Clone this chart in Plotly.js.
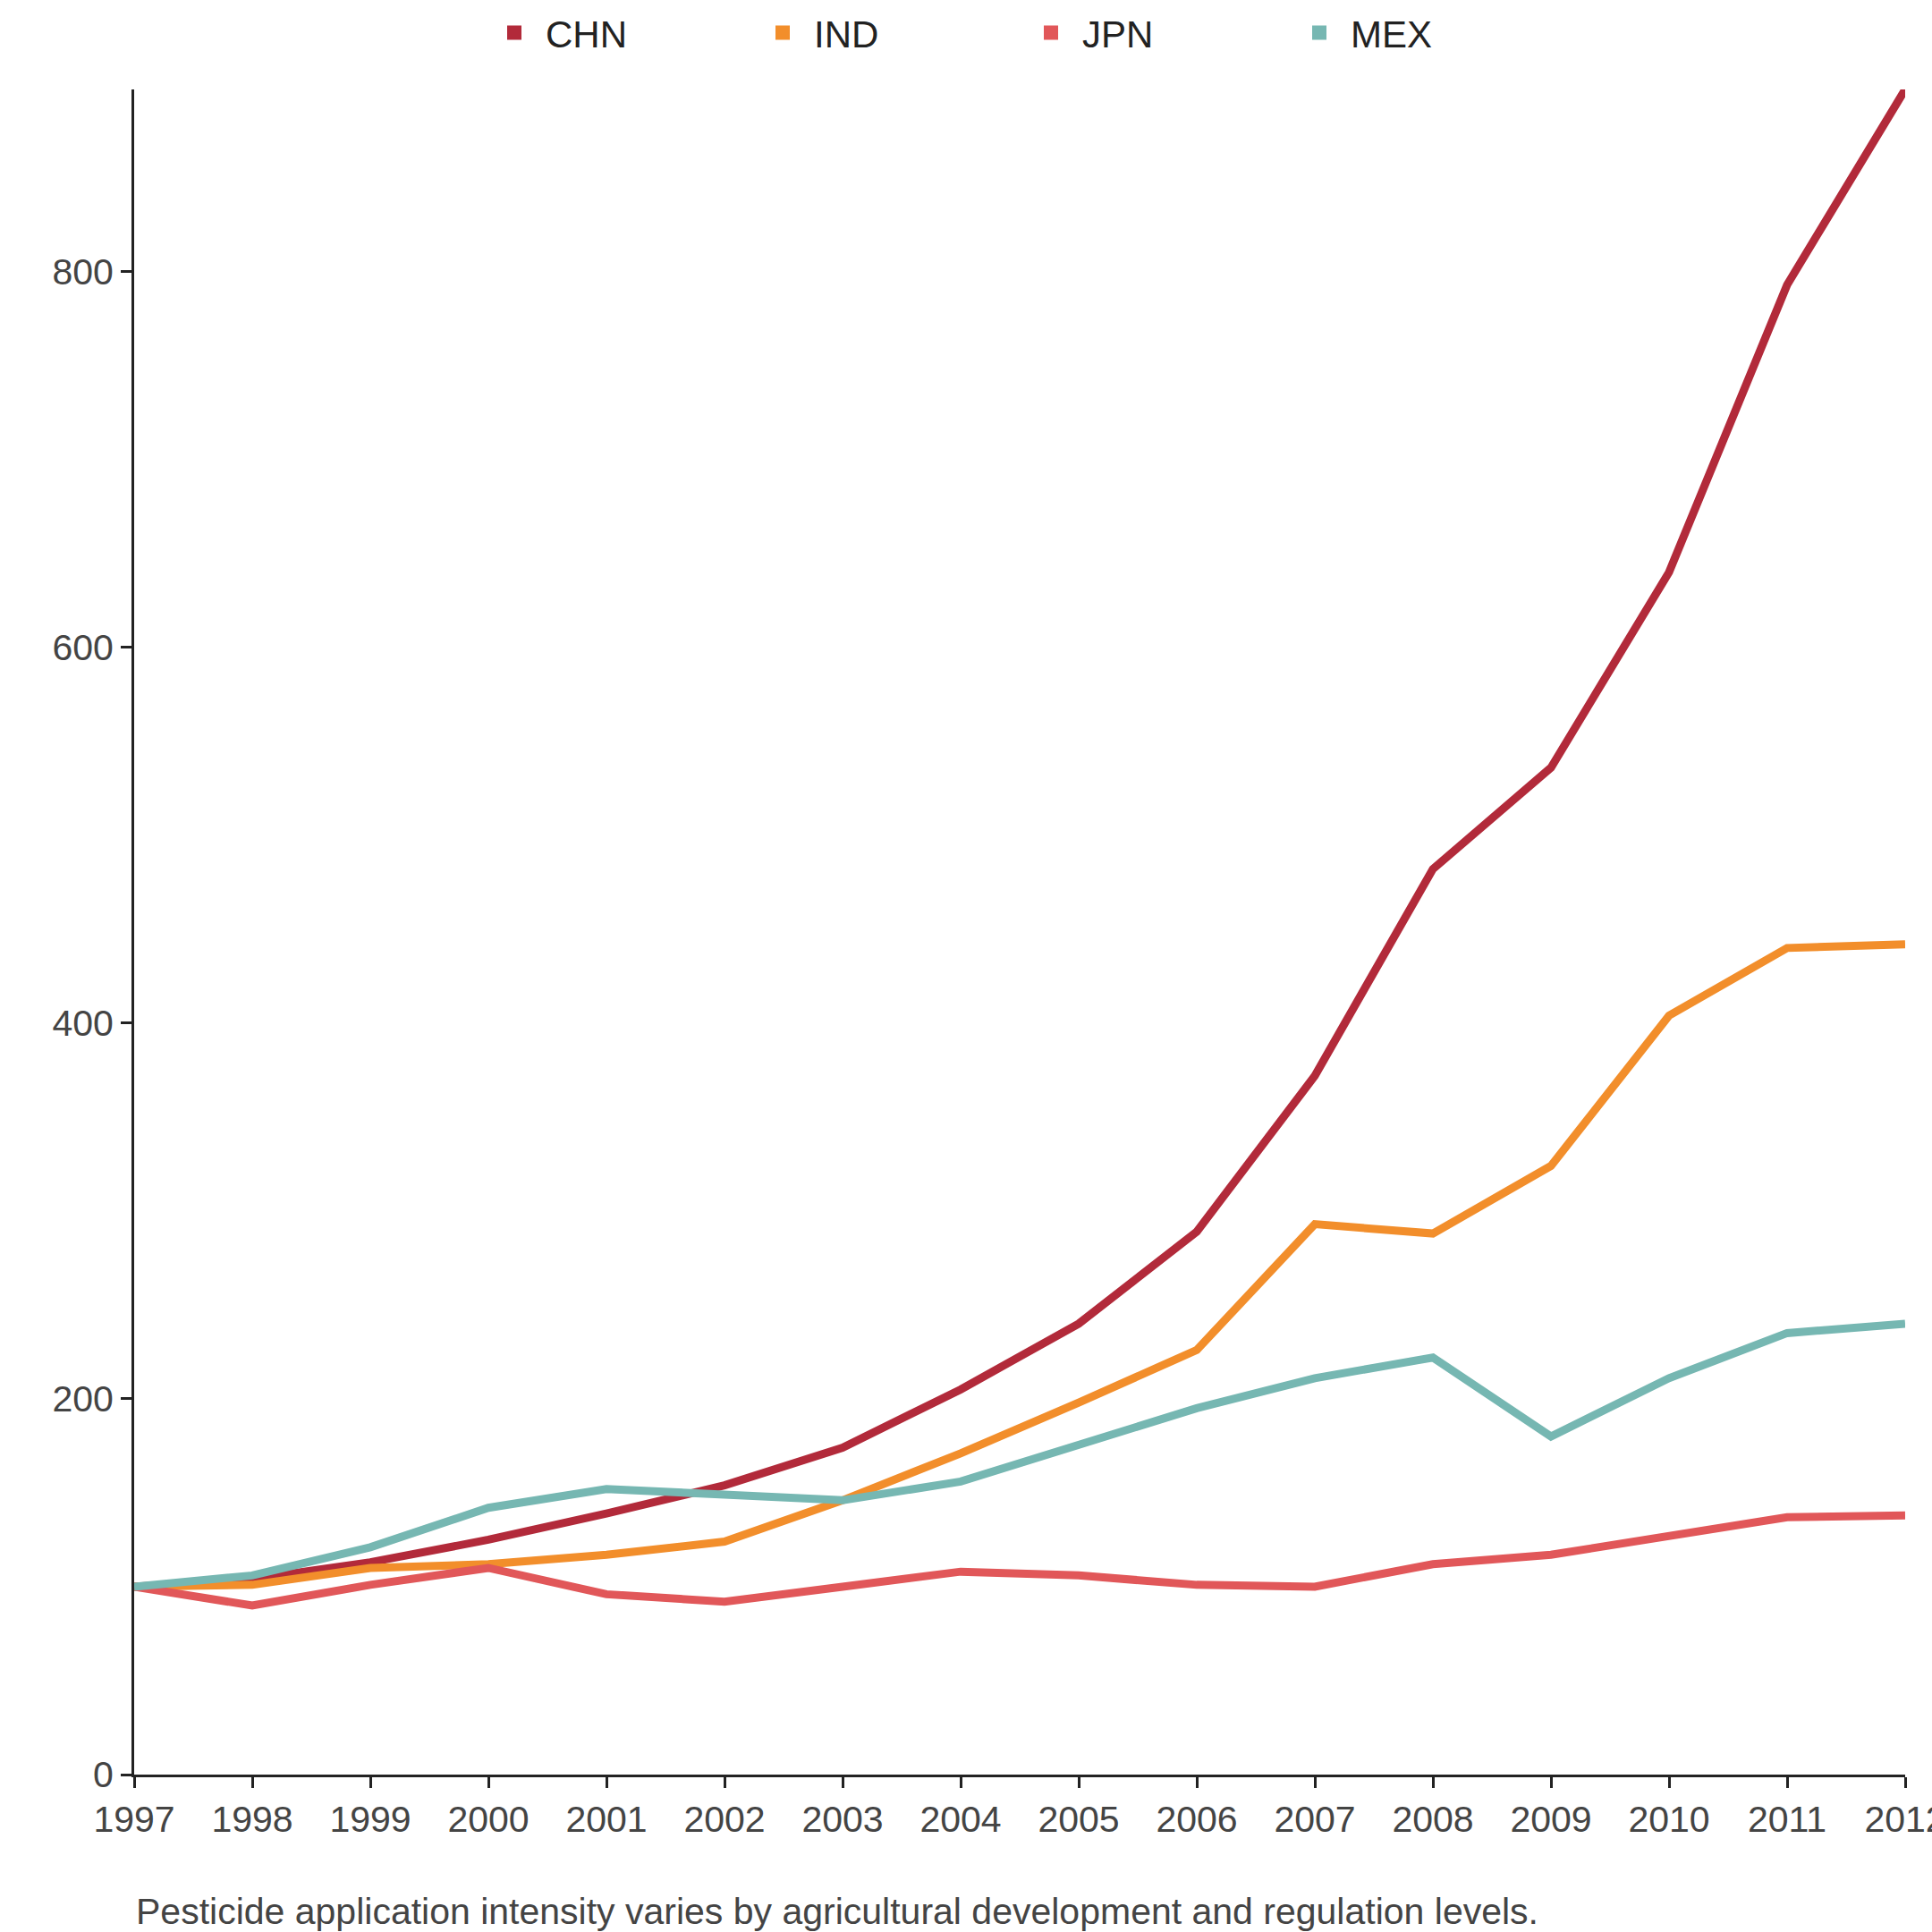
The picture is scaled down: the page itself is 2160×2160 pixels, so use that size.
<!DOCTYPE html>
<html>
<head>
<meta charset="utf-8">
<script src="https://cdn.plot.ly/plotly-3.0.1.min.js"></script>
<style>body{margin:0;background:#fff}#chart{width:2160px;height:2160px}</style>
</head>
<body>
<div id="chart"></div>
<script>
// Pesticide use index, 1997 = 100
const years = [1997, 1998, 1999, 2000, 2001, 2002, 2003, 2004, 2005, 2006, 2007, 2008, 2009, 2010, 2011, 2012];
const chn = [100, 104, 113, 125, 139, 154, 174, 205, 240, 289, 372, 482, 536, 640, 793, 897];
const ind = [100, 101, 110, 112, 117, 124, 146, 171, 198, 226, 293, 288, 324, 404, 440, 442];
const jpn = [100, 90, 101, 110, 96, 92, 100, 108, 106, 101, 100, 112, 117, 127, 137, 138];
const mex = [100, 106, 121, 142, 152, 149, 146, 156, 175, 195, 211, 222, 180, 211, 235, 240];

const names = ['CHN', 'IND', 'JPN', 'MEX'];
const series = [chn, ind, jpn, mex];
const colors = ['#b22a3a', '#f28e2b', '#e15759', '#76b7b2'];

const data = [];
series.forEach((vals, i) => {
    data.push({
        x: years, y: vals, mode: 'lines', name: names[i],
        line: { color: colors[i], width: 9 }, showlegend: false, hoverinfo: 'none'
    });
});
// square legend entries
names.forEach((n, i) => {
    data.push({
        x: [null], y: [null], mode: 'markers', name: n,
        marker: { color: colors[i], symbol: 'square', size: 34 }
    });
});

const layout = {
    width: 2160, height: 2160,
    paper_bgcolor: '#fff', plot_bgcolor: '#fff',
    font: { family: 'Liberation Sans, Arial', size: 41, color: '#444' },
    margin: { l: 150, r: 30, t: 100, b: 176 },
    showlegend: true,
    legend: {
        orientation: 'h', x: 0.5, xanchor: 'center',
        yref: 'container', y: 0.983, yanchor: 'middle',
        font: { size: 42, color: '#222' }, entrywidth: 225, itemwidth: 60
    },
    xaxis: {
        range: [1997, 2012], tickvals: years, showgrid: false, zeroline: false,
        showline: true, linecolor: '#222', linewidth: 3,
        ticks: 'outside', ticklen: 12, tickwidth: 3, tickcolor: '#222',
        ticklabeloverflow: 'allow',
        tickfont: { size: 41, color: '#444' }
    },
    yaxis: {
        range: [0, 897], tickvals: [0, 200, 400, 600, 800], showgrid: false, zeroline: false,
        showline: true, linecolor: '#222', linewidth: 3,
        ticks: 'outside', ticklen: 12, tickwidth: 3, tickcolor: '#222',
        tickfont: { size: 41, color: '#444' }
    },
    annotations: [{
        text: 'Pesticide application intensity varies by agricultural development and regulation levels.',
        xref: 'paper', yref: 'paper', x: 0, y: -0.081, xanchor: 'left', yanchor: 'middle',
        showarrow: false, font: { size: 41, color: '#444' }
    }]
};

Plotly.newPlot('chart', data, layout, { displayModeBar: false });
</script>
</body>
</html>
